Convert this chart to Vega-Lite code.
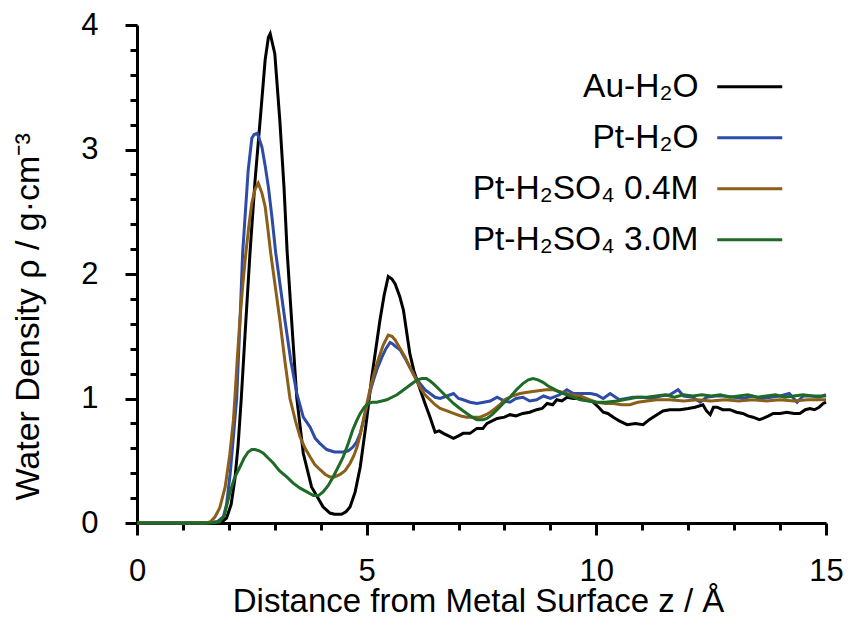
{
  "$schema": "https://vega.github.io/schema/vega-lite/v6.json",
  "autosize": {"type": "none"},
  "padding": {"left": 137, "top": 25, "right": 22, "bottom": 111},
  "width": 689,
  "height": 498,
  "background": "white",
  "config": {
    "view": {"stroke": null},
    "font": "Liberation Sans"
  },
  "datasets": {
    "curves": [
      {"series": "Au-H₂O", "z": 0, "rho": 0},
      {"series": "Au-H₂O", "z": 1.5, "rho": 0},
      {"series": "Au-H₂O", "z": 1.85, "rho": 0.01},
      {"series": "Au-H₂O", "z": 1.95, "rho": 0.04},
      {"series": "Au-H₂O", "z": 2.05, "rho": 0.15},
      {"series": "Au-H₂O", "z": 2.13, "rho": 0.35},
      {"series": "Au-H₂O", "z": 2.2, "rho": 0.62},
      {"series": "Au-H₂O", "z": 2.27, "rho": 1.0},
      {"series": "Au-H₂O", "z": 2.35, "rho": 1.5},
      {"series": "Au-H₂O", "z": 2.46, "rho": 2.17},
      {"series": "Au-H₂O", "z": 2.57, "rho": 2.75},
      {"series": "Au-H₂O", "z": 2.68, "rho": 3.23},
      {"series": "Au-H₂O", "z": 2.79, "rho": 3.72},
      {"series": "Au-H₂O", "z": 2.86, "rho": 3.9},
      {"series": "Au-H₂O", "z": 2.9, "rho": 3.93},
      {"series": "Au-H₂O", "z": 3.0, "rho": 3.77},
      {"series": "Au-H₂O", "z": 3.11, "rho": 3.23},
      {"series": "Au-H₂O", "z": 3.2, "rho": 2.7},
      {"series": "Au-H₂O", "z": 3.27, "rho": 2.17},
      {"series": "Au-H₂O", "z": 3.38, "rho": 1.55},
      {"series": "Au-H₂O", "z": 3.48, "rho": 1.0},
      {"series": "Au-H₂O", "z": 3.62, "rho": 0.56},
      {"series": "Au-H₂O", "z": 3.8, "rho": 0.29},
      {"series": "Au-H₂O", "z": 4.05, "rho": 0.13},
      {"series": "Au-H₂O", "z": 4.2, "rho": 0.08},
      {"series": "Au-H₂O", "z": 4.3, "rho": 0.07},
      {"series": "Au-H₂O", "z": 4.45, "rho": 0.07},
      {"series": "Au-H₂O", "z": 4.55, "rho": 0.09},
      {"series": "Au-H₂O", "z": 4.64, "rho": 0.13},
      {"series": "Au-H₂O", "z": 4.75, "rho": 0.25},
      {"series": "Au-H₂O", "z": 4.86, "rho": 0.45},
      {"series": "Au-H₂O", "z": 5.0, "rho": 0.83},
      {"series": "Au-H₂O", "z": 5.11, "rho": 1.17},
      {"series": "Au-H₂O", "z": 5.2, "rho": 1.4},
      {"series": "Au-H₂O", "z": 5.29, "rho": 1.63},
      {"series": "Au-H₂O", "z": 5.38, "rho": 1.83},
      {"series": "Au-H₂O", "z": 5.47, "rho": 1.98},
      {"series": "Au-H₂O", "z": 5.55, "rho": 1.96},
      {"series": "Au-H₂O", "z": 5.62, "rho": 1.92},
      {"series": "Au-H₂O", "z": 5.72, "rho": 1.82},
      {"series": "Au-H₂O", "z": 5.8, "rho": 1.71},
      {"series": "Au-H₂O", "z": 5.94, "rho": 1.36},
      {"series": "Au-H₂O", "z": 6.03, "rho": 1.22},
      {"series": "Au-H₂O", "z": 6.12, "rho": 1.12},
      {"series": "Au-H₂O", "z": 6.27, "rho": 0.96},
      {"series": "Au-H₂O", "z": 6.38, "rho": 0.85},
      {"series": "Au-H₂O", "z": 6.49, "rho": 0.73},
      {"series": "Au-H₂O", "z": 6.58, "rho": 0.74},
      {"series": "Au-H₂O", "z": 6.67, "rho": 0.72},
      {"series": "Au-H₂O", "z": 6.78, "rho": 0.7},
      {"series": "Au-H₂O", "z": 6.89, "rho": 0.68},
      {"series": "Au-H₂O", "z": 7.0, "rho": 0.7},
      {"series": "Au-H₂O", "z": 7.1, "rho": 0.72},
      {"series": "Au-H₂O", "z": 7.25, "rho": 0.72},
      {"series": "Au-H₂O", "z": 7.4, "rho": 0.76},
      {"series": "Au-H₂O", "z": 7.53, "rho": 0.76},
      {"series": "Au-H₂O", "z": 7.62, "rho": 0.8},
      {"series": "Au-H₂O", "z": 7.84, "rho": 0.84},
      {"series": "Au-H₂O", "z": 8.0, "rho": 0.85},
      {"series": "Au-H₂O", "z": 8.12, "rho": 0.87},
      {"series": "Au-H₂O", "z": 8.25, "rho": 0.86},
      {"series": "Au-H₂O", "z": 8.4, "rho": 0.88},
      {"series": "Au-H₂O", "z": 8.55, "rho": 0.89},
      {"series": "Au-H₂O", "z": 8.7, "rho": 0.91},
      {"series": "Au-H₂O", "z": 8.82, "rho": 0.92},
      {"series": "Au-H₂O", "z": 8.93, "rho": 0.96},
      {"series": "Au-H₂O", "z": 9.05, "rho": 0.95},
      {"series": "Au-H₂O", "z": 9.14, "rho": 0.99},
      {"series": "Au-H₂O", "z": 9.25, "rho": 0.98},
      {"series": "Au-H₂O", "z": 9.36, "rho": 1.01},
      {"series": "Au-H₂O", "z": 9.5, "rho": 1.0},
      {"series": "Au-H₂O", "z": 9.65, "rho": 1.0},
      {"series": "Au-H₂O", "z": 9.8, "rho": 0.99},
      {"series": "Au-H₂O", "z": 9.93, "rho": 0.97},
      {"series": "Au-H₂O", "z": 10.05, "rho": 0.93},
      {"series": "Au-H₂O", "z": 10.15, "rho": 0.89},
      {"series": "Au-H₂O", "z": 10.25, "rho": 0.88},
      {"series": "Au-H₂O", "z": 10.37, "rho": 0.85},
      {"series": "Au-H₂O", "z": 10.5, "rho": 0.82},
      {"series": "Au-H₂O", "z": 10.67, "rho": 0.79},
      {"series": "Au-H₂O", "z": 10.85, "rho": 0.8},
      {"series": "Au-H₂O", "z": 11.02, "rho": 0.79},
      {"series": "Au-H₂O", "z": 11.15, "rho": 0.83},
      {"series": "Au-H₂O", "z": 11.32, "rho": 0.87},
      {"series": "Au-H₂O", "z": 11.45, "rho": 0.9},
      {"series": "Au-H₂O", "z": 11.6, "rho": 0.91},
      {"series": "Au-H₂O", "z": 11.82, "rho": 0.91},
      {"series": "Au-H₂O", "z": 12.0, "rho": 0.92},
      {"series": "Au-H₂O", "z": 12.15, "rho": 0.93},
      {"series": "Au-H₂O", "z": 12.32, "rho": 0.95},
      {"series": "Au-H₂O", "z": 12.4, "rho": 0.9},
      {"series": "Au-H₂O", "z": 12.48, "rho": 0.87},
      {"series": "Au-H₂O", "z": 12.55, "rho": 0.93},
      {"series": "Au-H₂O", "z": 12.63, "rho": 0.93},
      {"series": "Au-H₂O", "z": 12.75, "rho": 0.91},
      {"series": "Au-H₂O", "z": 12.91, "rho": 0.91},
      {"series": "Au-H₂O", "z": 13.05, "rho": 0.89},
      {"series": "Au-H₂O", "z": 13.19, "rho": 0.88},
      {"series": "Au-H₂O", "z": 13.3, "rho": 0.86},
      {"series": "Au-H₂O", "z": 13.41, "rho": 0.85},
      {"series": "Au-H₂O", "z": 13.55, "rho": 0.83},
      {"series": "Au-H₂O", "z": 13.63, "rho": 0.84},
      {"series": "Au-H₂O", "z": 13.75, "rho": 0.86},
      {"series": "Au-H₂O", "z": 13.85, "rho": 0.88},
      {"series": "Au-H₂O", "z": 14.0, "rho": 0.88},
      {"series": "Au-H₂O", "z": 14.15, "rho": 0.89},
      {"series": "Au-H₂O", "z": 14.3, "rho": 0.88},
      {"series": "Au-H₂O", "z": 14.43, "rho": 0.88},
      {"series": "Au-H₂O", "z": 14.55, "rho": 0.91},
      {"series": "Au-H₂O", "z": 14.65, "rho": 0.92},
      {"series": "Au-H₂O", "z": 14.75, "rho": 0.91},
      {"series": "Au-H₂O", "z": 14.85, "rho": 0.93},
      {"series": "Au-H₂O", "z": 14.94, "rho": 0.96},
      {"series": "Au-H₂O", "z": 15.0, "rho": 0.97},

      {"series": "Pt-H₂O", "z": 0, "rho": 0},
      {"series": "Pt-H₂O", "z": 1.5, "rho": 0},
      {"series": "Pt-H₂O", "z": 1.75, "rho": 0.01},
      {"series": "Pt-H₂O", "z": 1.88, "rho": 0.05},
      {"series": "Pt-H₂O", "z": 1.95, "rho": 0.15},
      {"series": "Pt-H₂O", "z": 2.03, "rho": 0.4},
      {"series": "Pt-H₂O", "z": 2.1, "rho": 0.7},
      {"series": "Pt-H₂O", "z": 2.17, "rho": 1.0},
      {"series": "Pt-H₂O", "z": 2.24, "rho": 1.6},
      {"series": "Pt-H₂O", "z": 2.3, "rho": 2.17},
      {"series": "Pt-H₂O", "z": 2.36, "rho": 2.5},
      {"series": "Pt-H₂O", "z": 2.42, "rho": 2.83},
      {"series": "Pt-H₂O", "z": 2.5, "rho": 3.09},
      {"series": "Pt-H₂O", "z": 2.55, "rho": 3.12},
      {"series": "Pt-H₂O", "z": 2.62, "rho": 3.13},
      {"series": "Pt-H₂O", "z": 2.72, "rho": 3.02},
      {"series": "Pt-H₂O", "z": 2.79, "rho": 2.87},
      {"series": "Pt-H₂O", "z": 2.86, "rho": 2.7},
      {"series": "Pt-H₂O", "z": 2.94, "rho": 2.45},
      {"series": "Pt-H₂O", "z": 3.02, "rho": 2.17},
      {"series": "Pt-H₂O", "z": 3.12, "rho": 1.9},
      {"series": "Pt-H₂O", "z": 3.22, "rho": 1.63},
      {"series": "Pt-H₂O", "z": 3.35, "rho": 1.3},
      {"series": "Pt-H₂O", "z": 3.48, "rho": 1.04},
      {"series": "Pt-H₂O", "z": 3.62, "rho": 0.85},
      {"series": "Pt-H₂O", "z": 3.77, "rho": 0.77},
      {"series": "Pt-H₂O", "z": 3.88, "rho": 0.68},
      {"series": "Pt-H₂O", "z": 3.98, "rho": 0.64},
      {"series": "Pt-H₂O", "z": 4.13, "rho": 0.59},
      {"series": "Pt-H₂O", "z": 4.3, "rho": 0.57},
      {"series": "Pt-H₂O", "z": 4.49, "rho": 0.57},
      {"series": "Pt-H₂O", "z": 4.6, "rho": 0.58},
      {"series": "Pt-H₂O", "z": 4.7, "rho": 0.61},
      {"series": "Pt-H₂O", "z": 4.78, "rho": 0.65},
      {"series": "Pt-H₂O", "z": 4.86, "rho": 0.72},
      {"series": "Pt-H₂O", "z": 4.93, "rho": 0.82},
      {"series": "Pt-H₂O", "z": 5.0, "rho": 0.93},
      {"series": "Pt-H₂O", "z": 5.07, "rho": 1.05},
      {"series": "Pt-H₂O", "z": 5.15, "rho": 1.15},
      {"series": "Pt-H₂O", "z": 5.24, "rho": 1.25},
      {"series": "Pt-H₂O", "z": 5.33, "rho": 1.33},
      {"series": "Pt-H₂O", "z": 5.42, "rho": 1.4},
      {"series": "Pt-H₂O", "z": 5.51, "rho": 1.45},
      {"series": "Pt-H₂O", "z": 5.56, "rho": 1.44},
      {"series": "Pt-H₂O", "z": 5.62, "rho": 1.42},
      {"series": "Pt-H₂O", "z": 5.73, "rho": 1.39},
      {"series": "Pt-H₂O", "z": 5.84, "rho": 1.32},
      {"series": "Pt-H₂O", "z": 5.94, "rho": 1.25},
      {"series": "Pt-H₂O", "z": 6.05, "rho": 1.18},
      {"series": "Pt-H₂O", "z": 6.16, "rho": 1.12},
      {"series": "Pt-H₂O", "z": 6.27, "rho": 1.07},
      {"series": "Pt-H₂O", "z": 6.38, "rho": 1.04},
      {"series": "Pt-H₂O", "z": 6.49, "rho": 1.01},
      {"series": "Pt-H₂O", "z": 6.6, "rho": 1.0},
      {"series": "Pt-H₂O", "z": 6.75, "rho": 1.02},
      {"series": "Pt-H₂O", "z": 6.89, "rho": 1.04},
      {"series": "Pt-H₂O", "z": 7.0, "rho": 1.0},
      {"series": "Pt-H₂O", "z": 7.1, "rho": 0.99},
      {"series": "Pt-H₂O", "z": 7.25, "rho": 0.97},
      {"series": "Pt-H₂O", "z": 7.4, "rho": 0.96},
      {"series": "Pt-H₂O", "z": 7.55, "rho": 0.97},
      {"series": "Pt-H₂O", "z": 7.69, "rho": 0.98},
      {"series": "Pt-H₂O", "z": 7.84, "rho": 1.01},
      {"series": "Pt-H₂O", "z": 8.0, "rho": 0.98},
      {"series": "Pt-H₂O", "z": 8.12, "rho": 0.97},
      {"series": "Pt-H₂O", "z": 8.25, "rho": 1.0},
      {"series": "Pt-H₂O", "z": 8.4, "rho": 1.01},
      {"series": "Pt-H₂O", "z": 8.55, "rho": 0.98},
      {"series": "Pt-H₂O", "z": 8.7, "rho": 0.99},
      {"series": "Pt-H₂O", "z": 8.85, "rho": 1.02},
      {"series": "Pt-H₂O", "z": 9.0, "rho": 1.0},
      {"series": "Pt-H₂O", "z": 9.2, "rho": 1.03},
      {"series": "Pt-H₂O", "z": 9.36, "rho": 1.07},
      {"series": "Pt-H₂O", "z": 9.5, "rho": 1.04},
      {"series": "Pt-H₂O", "z": 9.65, "rho": 1.04},
      {"series": "Pt-H₂O", "z": 9.87, "rho": 1.04},
      {"series": "Pt-H₂O", "z": 10.0, "rho": 1.03},
      {"series": "Pt-H₂O", "z": 10.15, "rho": 1.0},
      {"series": "Pt-H₂O", "z": 10.3, "rho": 1.04},
      {"series": "Pt-H₂O", "z": 10.5, "rho": 0.99},
      {"series": "Pt-H₂O", "z": 10.65, "rho": 1.0},
      {"series": "Pt-H₂O", "z": 10.8, "rho": 1.01},
      {"series": "Pt-H₂O", "z": 11.0, "rho": 1.01},
      {"series": "Pt-H₂O", "z": 11.2, "rho": 1.0},
      {"series": "Pt-H₂O", "z": 11.4, "rho": 1.02},
      {"series": "Pt-H₂O", "z": 11.6, "rho": 1.03},
      {"series": "Pt-H₂O", "z": 11.78, "rho": 1.07},
      {"series": "Pt-H₂O", "z": 11.9, "rho": 1.02},
      {"series": "Pt-H₂O", "z": 12.1, "rho": 1.01},
      {"series": "Pt-H₂O", "z": 12.26, "rho": 0.97},
      {"series": "Pt-H₂O", "z": 12.4, "rho": 1.01},
      {"series": "Pt-H₂O", "z": 12.6, "rho": 1.02},
      {"series": "Pt-H₂O", "z": 12.8, "rho": 1.02},
      {"series": "Pt-H₂O", "z": 13.0, "rho": 1.01},
      {"series": "Pt-H₂O", "z": 13.2, "rho": 1.0},
      {"series": "Pt-H₂O", "z": 13.4, "rho": 1.02},
      {"series": "Pt-H₂O", "z": 13.6, "rho": 1.0},
      {"series": "Pt-H₂O", "z": 13.8, "rho": 1.01},
      {"series": "Pt-H₂O", "z": 14.0, "rho": 1.02},
      {"series": "Pt-H₂O", "z": 14.2, "rho": 1.04},
      {"series": "Pt-H₂O", "z": 14.37, "rho": 0.97},
      {"series": "Pt-H₂O", "z": 14.5, "rho": 1.02},
      {"series": "Pt-H₂O", "z": 14.7, "rho": 1.02},
      {"series": "Pt-H₂O", "z": 14.85, "rho": 1.01},
      {"series": "Pt-H₂O", "z": 15.0, "rho": 1.03},

      {"series": "Pt-H₂SO₄ 0.4M", "z": 0, "rho": 0},
      {"series": "Pt-H₂SO₄ 0.4M", "z": 1.5, "rho": 0},
      {"series": "Pt-H₂SO₄ 0.4M", "z": 1.6, "rho": 0.01},
      {"series": "Pt-H₂SO₄ 0.4M", "z": 1.7, "rho": 0.05},
      {"series": "Pt-H₂SO₄ 0.4M", "z": 1.8, "rho": 0.12},
      {"series": "Pt-H₂SO₄ 0.4M", "z": 1.92, "rho": 0.29},
      {"series": "Pt-H₂SO₄ 0.4M", "z": 2.02, "rho": 0.55},
      {"series": "Pt-H₂SO₄ 0.4M", "z": 2.1, "rho": 0.83},
      {"series": "Pt-H₂SO₄ 0.4M", "z": 2.13, "rho": 1.0},
      {"series": "Pt-H₂SO₄ 0.4M", "z": 2.18, "rho": 1.3},
      {"series": "Pt-H₂SO₄ 0.4M", "z": 2.24, "rho": 1.63},
      {"series": "Pt-H₂SO₄ 0.4M", "z": 2.3, "rho": 1.9},
      {"series": "Pt-H₂SO₄ 0.4M", "z": 2.37, "rho": 2.17},
      {"series": "Pt-H₂SO₄ 0.4M", "z": 2.44, "rho": 2.4},
      {"series": "Pt-H₂SO₄ 0.4M", "z": 2.5, "rho": 2.57},
      {"series": "Pt-H₂SO₄ 0.4M", "z": 2.57, "rho": 2.68},
      {"series": "Pt-H₂SO₄ 0.4M", "z": 2.64, "rho": 2.73},
      {"series": "Pt-H₂SO₄ 0.4M", "z": 2.72, "rho": 2.65},
      {"series": "Pt-H₂SO₄ 0.4M", "z": 2.79, "rho": 2.54},
      {"series": "Pt-H₂SO₄ 0.4M", "z": 2.85, "rho": 2.36},
      {"series": "Pt-H₂SO₄ 0.4M", "z": 2.91, "rho": 2.17},
      {"series": "Pt-H₂SO₄ 0.4M", "z": 3.01, "rho": 1.9},
      {"series": "Pt-H₂SO₄ 0.4M", "z": 3.11, "rho": 1.63},
      {"series": "Pt-H₂SO₄ 0.4M", "z": 3.22, "rho": 1.3},
      {"series": "Pt-H₂SO₄ 0.4M", "z": 3.33, "rho": 1.0},
      {"series": "Pt-H₂SO₄ 0.4M", "z": 3.45, "rho": 0.82},
      {"series": "Pt-H₂SO₄ 0.4M", "z": 3.55, "rho": 0.69},
      {"series": "Pt-H₂SO₄ 0.4M", "z": 3.66, "rho": 0.6},
      {"series": "Pt-H₂SO₄ 0.4M", "z": 3.77, "rho": 0.53},
      {"series": "Pt-H₂SO₄ 0.4M", "z": 3.87, "rho": 0.47},
      {"series": "Pt-H₂SO₄ 0.4M", "z": 3.98, "rho": 0.43},
      {"series": "Pt-H₂SO₄ 0.4M", "z": 4.1, "rho": 0.39},
      {"series": "Pt-H₂SO₄ 0.4M", "z": 4.2, "rho": 0.37},
      {"series": "Pt-H₂SO₄ 0.4M", "z": 4.3, "rho": 0.37},
      {"series": "Pt-H₂SO₄ 0.4M", "z": 4.42, "rho": 0.39},
      {"series": "Pt-H₂SO₄ 0.4M", "z": 4.53, "rho": 0.42},
      {"series": "Pt-H₂SO₄ 0.4M", "z": 4.64, "rho": 0.48},
      {"series": "Pt-H₂SO₄ 0.4M", "z": 4.72, "rho": 0.54},
      {"series": "Pt-H₂SO₄ 0.4M", "z": 4.79, "rho": 0.61},
      {"series": "Pt-H₂SO₄ 0.4M", "z": 4.86, "rho": 0.71},
      {"series": "Pt-H₂SO₄ 0.4M", "z": 4.93, "rho": 0.83},
      {"series": "Pt-H₂SO₄ 0.4M", "z": 5.0, "rho": 0.95},
      {"series": "Pt-H₂SO₄ 0.4M", "z": 5.07, "rho": 1.07},
      {"series": "Pt-H₂SO₄ 0.4M", "z": 5.16, "rho": 1.2},
      {"series": "Pt-H₂SO₄ 0.4M", "z": 5.25, "rho": 1.31},
      {"series": "Pt-H₂SO₄ 0.4M", "z": 5.36, "rho": 1.43},
      {"series": "Pt-H₂SO₄ 0.4M", "z": 5.47, "rho": 1.51},
      {"series": "Pt-H₂SO₄ 0.4M", "z": 5.55, "rho": 1.5},
      {"series": "Pt-H₂SO₄ 0.4M", "z": 5.62, "rho": 1.47},
      {"series": "Pt-H₂SO₄ 0.4M", "z": 5.73, "rho": 1.4},
      {"series": "Pt-H₂SO₄ 0.4M", "z": 5.84, "rho": 1.33},
      {"series": "Pt-H₂SO₄ 0.4M", "z": 5.94, "rho": 1.25},
      {"series": "Pt-H₂SO₄ 0.4M", "z": 6.05, "rho": 1.17},
      {"series": "Pt-H₂SO₄ 0.4M", "z": 6.16, "rho": 1.09},
      {"series": "Pt-H₂SO₄ 0.4M", "z": 6.27, "rho": 1.03},
      {"series": "Pt-H₂SO₄ 0.4M", "z": 6.38, "rho": 0.99},
      {"series": "Pt-H₂SO₄ 0.4M", "z": 6.49, "rho": 0.95},
      {"series": "Pt-H₂SO₄ 0.4M", "z": 6.6, "rho": 0.92},
      {"series": "Pt-H₂SO₄ 0.4M", "z": 6.75, "rho": 0.9},
      {"series": "Pt-H₂SO₄ 0.4M", "z": 6.89, "rho": 0.88},
      {"series": "Pt-H₂SO₄ 0.4M", "z": 7.05, "rho": 0.86},
      {"series": "Pt-H₂SO₄ 0.4M", "z": 7.18, "rho": 0.85},
      {"series": "Pt-H₂SO₄ 0.4M", "z": 7.32, "rho": 0.85},
      {"series": "Pt-H₂SO₄ 0.4M", "z": 7.47, "rho": 0.85},
      {"series": "Pt-H₂SO₄ 0.4M", "z": 7.6, "rho": 0.87},
      {"series": "Pt-H₂SO₄ 0.4M", "z": 7.69, "rho": 0.89},
      {"series": "Pt-H₂SO₄ 0.4M", "z": 7.8, "rho": 0.92},
      {"series": "Pt-H₂SO₄ 0.4M", "z": 7.9, "rho": 0.95},
      {"series": "Pt-H₂SO₄ 0.4M", "z": 8.0, "rho": 0.99},
      {"series": "Pt-H₂SO₄ 0.4M", "z": 8.17, "rho": 1.02},
      {"series": "Pt-H₂SO₄ 0.4M", "z": 8.34, "rho": 1.04},
      {"series": "Pt-H₂SO₄ 0.4M", "z": 8.5, "rho": 1.05},
      {"series": "Pt-H₂SO₄ 0.4M", "z": 8.7, "rho": 1.06},
      {"series": "Pt-H₂SO₄ 0.4M", "z": 8.9, "rho": 1.07},
      {"series": "Pt-H₂SO₄ 0.4M", "z": 9.06, "rho": 1.07},
      {"series": "Pt-H₂SO₄ 0.4M", "z": 9.25, "rho": 1.05},
      {"series": "Pt-H₂SO₄ 0.4M", "z": 9.45, "rho": 1.03},
      {"series": "Pt-H₂SO₄ 0.4M", "z": 9.65, "rho": 1.02},
      {"series": "Pt-H₂SO₄ 0.4M", "z": 9.85, "rho": 0.99},
      {"series": "Pt-H₂SO₄ 0.4M", "z": 10.0, "rho": 0.97},
      {"series": "Pt-H₂SO₄ 0.4M", "z": 10.2, "rho": 0.96},
      {"series": "Pt-H₂SO₄ 0.4M", "z": 10.37, "rho": 0.96},
      {"series": "Pt-H₂SO₄ 0.4M", "z": 10.55, "rho": 0.95},
      {"series": "Pt-H₂SO₄ 0.4M", "z": 10.73, "rho": 0.95},
      {"series": "Pt-H₂SO₄ 0.4M", "z": 10.9, "rho": 0.97},
      {"series": "Pt-H₂SO₄ 0.4M", "z": 11.1, "rho": 0.98},
      {"series": "Pt-H₂SO₄ 0.4M", "z": 11.32, "rho": 0.99},
      {"series": "Pt-H₂SO₄ 0.4M", "z": 11.6, "rho": 0.99},
      {"series": "Pt-H₂SO₄ 0.4M", "z": 11.9, "rho": 0.98},
      {"series": "Pt-H₂SO₄ 0.4M", "z": 12.2, "rho": 0.99},
      {"series": "Pt-H₂SO₄ 0.4M", "z": 12.5, "rho": 0.98},
      {"series": "Pt-H₂SO₄ 0.4M", "z": 12.8, "rho": 0.99},
      {"series": "Pt-H₂SO₄ 0.4M", "z": 13.1, "rho": 0.98},
      {"series": "Pt-H₂SO₄ 0.4M", "z": 13.4, "rho": 0.99},
      {"series": "Pt-H₂SO₄ 0.4M", "z": 13.7, "rho": 0.98},
      {"series": "Pt-H₂SO₄ 0.4M", "z": 14.0, "rho": 0.99},
      {"series": "Pt-H₂SO₄ 0.4M", "z": 14.3, "rho": 0.98},
      {"series": "Pt-H₂SO₄ 0.4M", "z": 14.6, "rho": 0.99},
      {"series": "Pt-H₂SO₄ 0.4M", "z": 15.0, "rho": 0.99},

      {"series": "Pt-H₂SO₄ 3.0M", "z": 0, "rho": 0},
      {"series": "Pt-H₂SO₄ 3.0M", "z": 1.6, "rho": 0},
      {"series": "Pt-H₂SO₄ 3.0M", "z": 1.8, "rho": 0.01},
      {"series": "Pt-H₂SO₄ 3.0M", "z": 1.9, "rho": 0.06},
      {"series": "Pt-H₂SO₄ 3.0M", "z": 2.02, "rho": 0.24},
      {"series": "Pt-H₂SO₄ 3.0M", "z": 2.12, "rho": 0.36},
      {"series": "Pt-H₂SO₄ 3.0M", "z": 2.24, "rho": 0.45},
      {"series": "Pt-H₂SO₄ 3.0M", "z": 2.33, "rho": 0.52},
      {"series": "Pt-H₂SO₄ 3.0M", "z": 2.42, "rho": 0.57},
      {"series": "Pt-H₂SO₄ 3.0M", "z": 2.5, "rho": 0.59},
      {"series": "Pt-H₂SO₄ 3.0M", "z": 2.57, "rho": 0.59},
      {"series": "Pt-H₂SO₄ 3.0M", "z": 2.66, "rho": 0.58},
      {"series": "Pt-H₂SO₄ 3.0M", "z": 2.75, "rho": 0.56},
      {"series": "Pt-H₂SO₄ 3.0M", "z": 2.86, "rho": 0.52},
      {"series": "Pt-H₂SO₄ 3.0M", "z": 2.97, "rho": 0.48},
      {"series": "Pt-H₂SO₄ 3.0M", "z": 3.1, "rho": 0.42},
      {"series": "Pt-H₂SO₄ 3.0M", "z": 3.26, "rho": 0.37},
      {"series": "Pt-H₂SO₄ 3.0M", "z": 3.4, "rho": 0.32},
      {"series": "Pt-H₂SO₄ 3.0M", "z": 3.55, "rho": 0.28},
      {"series": "Pt-H₂SO₄ 3.0M", "z": 3.7, "rho": 0.25},
      {"series": "Pt-H₂SO₄ 3.0M", "z": 3.84, "rho": 0.22},
      {"series": "Pt-H₂SO₄ 3.0M", "z": 3.95, "rho": 0.22},
      {"series": "Pt-H₂SO₄ 3.0M", "z": 4.05, "rho": 0.25},
      {"series": "Pt-H₂SO₄ 3.0M", "z": 4.16, "rho": 0.3},
      {"series": "Pt-H₂SO₄ 3.0M", "z": 4.27, "rho": 0.37},
      {"series": "Pt-H₂SO₄ 3.0M", "z": 4.38, "rho": 0.45},
      {"series": "Pt-H₂SO₄ 3.0M", "z": 4.49, "rho": 0.53},
      {"series": "Pt-H₂SO₄ 3.0M", "z": 4.6, "rho": 0.64},
      {"series": "Pt-H₂SO₄ 3.0M", "z": 4.7, "rho": 0.75},
      {"series": "Pt-H₂SO₄ 3.0M", "z": 4.78, "rho": 0.82},
      {"series": "Pt-H₂SO₄ 3.0M", "z": 4.86, "rho": 0.88},
      {"series": "Pt-H₂SO₄ 3.0M", "z": 4.95, "rho": 0.93},
      {"series": "Pt-H₂SO₄ 3.0M", "z": 5.03, "rho": 0.96},
      {"series": "Pt-H₂SO₄ 3.0M", "z": 5.12, "rho": 0.97},
      {"series": "Pt-H₂SO₄ 3.0M", "z": 5.22, "rho": 0.97},
      {"series": "Pt-H₂SO₄ 3.0M", "z": 5.33, "rho": 0.98},
      {"series": "Pt-H₂SO₄ 3.0M", "z": 5.44, "rho": 0.99},
      {"series": "Pt-H₂SO₄ 3.0M", "z": 5.55, "rho": 1.01},
      {"series": "Pt-H₂SO₄ 3.0M", "z": 5.66, "rho": 1.03},
      {"series": "Pt-H₂SO₄ 3.0M", "z": 5.77, "rho": 1.06},
      {"series": "Pt-H₂SO₄ 3.0M", "z": 5.88, "rho": 1.09},
      {"series": "Pt-H₂SO₄ 3.0M", "z": 5.99, "rho": 1.12},
      {"series": "Pt-H₂SO₄ 3.0M", "z": 6.1, "rho": 1.15},
      {"series": "Pt-H₂SO₄ 3.0M", "z": 6.2, "rho": 1.16},
      {"series": "Pt-H₂SO₄ 3.0M", "z": 6.3, "rho": 1.16},
      {"series": "Pt-H₂SO₄ 3.0M", "z": 6.38, "rho": 1.14},
      {"series": "Pt-H₂SO₄ 3.0M", "z": 6.45, "rho": 1.12},
      {"series": "Pt-H₂SO₄ 3.0M", "z": 6.56, "rho": 1.08},
      {"series": "Pt-H₂SO₄ 3.0M", "z": 6.67, "rho": 1.04},
      {"series": "Pt-H₂SO₄ 3.0M", "z": 6.78, "rho": 1.0},
      {"series": "Pt-H₂SO₄ 3.0M", "z": 6.89, "rho": 0.96},
      {"series": "Pt-H₂SO₄ 3.0M", "z": 7.03, "rho": 0.92},
      {"series": "Pt-H₂SO₄ 3.0M", "z": 7.18, "rho": 0.88},
      {"series": "Pt-H₂SO₄ 3.0M", "z": 7.3, "rho": 0.85},
      {"series": "Pt-H₂SO₄ 3.0M", "z": 7.4, "rho": 0.83},
      {"series": "Pt-H₂SO₄ 3.0M", "z": 7.53, "rho": 0.83},
      {"series": "Pt-H₂SO₄ 3.0M", "z": 7.62, "rho": 0.84},
      {"series": "Pt-H₂SO₄ 3.0M", "z": 7.73, "rho": 0.87},
      {"series": "Pt-H₂SO₄ 3.0M", "z": 7.84, "rho": 0.91},
      {"series": "Pt-H₂SO₄ 3.0M", "z": 7.97, "rho": 0.96},
      {"series": "Pt-H₂SO₄ 3.0M", "z": 8.12, "rho": 1.01},
      {"series": "Pt-H₂SO₄ 3.0M", "z": 8.26, "rho": 1.07},
      {"series": "Pt-H₂SO₄ 3.0M", "z": 8.4, "rho": 1.12},
      {"series": "Pt-H₂SO₄ 3.0M", "z": 8.52, "rho": 1.15},
      {"series": "Pt-H₂SO₄ 3.0M", "z": 8.62, "rho": 1.16},
      {"series": "Pt-H₂SO₄ 3.0M", "z": 8.73, "rho": 1.15},
      {"series": "Pt-H₂SO₄ 3.0M", "z": 8.84, "rho": 1.13},
      {"series": "Pt-H₂SO₄ 3.0M", "z": 8.95, "rho": 1.1},
      {"series": "Pt-H₂SO₄ 3.0M", "z": 9.06, "rho": 1.08},
      {"series": "Pt-H₂SO₄ 3.0M", "z": 9.2, "rho": 1.05},
      {"series": "Pt-H₂SO₄ 3.0M", "z": 9.36, "rho": 1.03},
      {"series": "Pt-H₂SO₄ 3.0M", "z": 9.5, "rho": 1.01},
      {"series": "Pt-H₂SO₄ 3.0M", "z": 9.65, "rho": 0.99},
      {"series": "Pt-H₂SO₄ 3.0M", "z": 9.82, "rho": 0.98},
      {"series": "Pt-H₂SO₄ 3.0M", "z": 10.0, "rho": 0.97},
      {"series": "Pt-H₂SO₄ 3.0M", "z": 10.2, "rho": 0.97},
      {"series": "Pt-H₂SO₄ 3.0M", "z": 10.45, "rho": 0.98},
      {"series": "Pt-H₂SO₄ 3.0M", "z": 10.6, "rho": 0.99},
      {"series": "Pt-H₂SO₄ 3.0M", "z": 10.89, "rho": 1.01},
      {"series": "Pt-H₂SO₄ 3.0M", "z": 11.1, "rho": 1.01},
      {"series": "Pt-H₂SO₄ 3.0M", "z": 11.3, "rho": 1.02},
      {"series": "Pt-H₂SO₄ 3.0M", "z": 11.5, "rho": 1.03},
      {"series": "Pt-H₂SO₄ 3.0M", "z": 11.7, "rho": 1.01},
      {"series": "Pt-H₂SO₄ 3.0M", "z": 11.9, "rho": 1.03},
      {"series": "Pt-H₂SO₄ 3.0M", "z": 12.1, "rho": 1.02},
      {"series": "Pt-H₂SO₄ 3.0M", "z": 12.3, "rho": 1.03},
      {"series": "Pt-H₂SO₄ 3.0M", "z": 12.5, "rho": 1.02},
      {"series": "Pt-H₂SO₄ 3.0M", "z": 12.7, "rho": 1.03},
      {"series": "Pt-H₂SO₄ 3.0M", "z": 12.9, "rho": 1.01},
      {"series": "Pt-H₂SO₄ 3.0M", "z": 13.1, "rho": 1.02},
      {"series": "Pt-H₂SO₄ 3.0M", "z": 13.3, "rho": 1.03},
      {"series": "Pt-H₂SO₄ 3.0M", "z": 13.5, "rho": 1.01},
      {"series": "Pt-H₂SO₄ 3.0M", "z": 13.7, "rho": 1.02},
      {"series": "Pt-H₂SO₄ 3.0M", "z": 13.9, "rho": 1.03},
      {"series": "Pt-H₂SO₄ 3.0M", "z": 14.1, "rho": 1.01},
      {"series": "Pt-H₂SO₄ 3.0M", "z": 14.3, "rho": 1.02},
      {"series": "Pt-H₂SO₄ 3.0M", "z": 14.5, "rho": 1.03},
      {"series": "Pt-H₂SO₄ 3.0M", "z": 14.7, "rho": 1.02},
      {"series": "Pt-H₂SO₄ 3.0M", "z": 15.0, "rho": 1.02}
    ]
  },
  "resolve": {"axis": {"x": "independent", "y": "independent"}},
  "layer": [
    {
      "data": {"name": "curves"},
      "mark": {"type": "line", "opacity": 0, "strokeWidth": 0},
      "encoding": {
        "detail": {"field": "series", "type": "nominal"},
        "x": {
          "field": "z", "type": "quantitative",
          "scale": {"domain": [0, 15], "nice": false, "zero": false},
          "axis": {
            "orient": "bottom",
            "values": [1, 2, 3, 4, 6, 7, 8, 9, 11, 12, 13, 14],
            "labels": false, "domain": false, "grid": false, "title": null,
            "tickSize": 7, "tickColor": "#000000", "tickWidth": 3
          }
        },
        "y": {
          "field": "rho", "type": "quantitative",
          "scale": {"domain": [0, 4], "nice": false, "zero": false},
          "axis": {
            "orient": "left",
            "values": [0.2, 0.4, 0.6, 0.8, 1.2, 1.4, 1.6, 1.8, 2.2, 2.4, 2.6, 2.8, 3.2, 3.4, 3.6, 3.8],
            "labels": false, "domain": false, "grid": false, "title": null,
            "tickSize": 7, "tickColor": "#000000", "tickWidth": 3
          }
        }
      }
    },
    {
      "mark": {"type": "rule", "color": "#444444", "strokeWidth": 2, "strokeDash": [10, 8], "strokeDashOffset": 12},
      "encoding": {"y": {"datum": 1, "type": "quantitative", "axis": null}}
    },
    {
      "data": {"name": "curves"},
      "mark": {"type": "line", "strokeWidth": 3, "interpolate": "linear"},
      "encoding": {
        "x": {
          "field": "z", "type": "quantitative",
          "scale": {"domain": [0, 15], "nice": false, "zero": false},
          "axis": {
            "orient": "bottom",
            "values": [0, 5, 10, 15],
            "format": "d",
            "tickSize": 12,
            "grid": false,
            "domainColor": "#000000", "domainWidth": 3,
            "tickColor": "#000000", "tickWidth": 3,
            "labelFontSize": 31, "labelColor": "#000000", "labelPadding": 21,
            "labelFlush": false,
            "title": "Distance from Metal Surface z / Å",
            "titleFontSize": 33, "titleFontWeight": "normal", "titleColor": "#000000",
            "titleX": 341, "titleY": 88, "titleBaseline": "alphabetic", "titleAlign": "center"
          }
        },
        "y": {
          "field": "rho", "type": "quantitative",
          "scale": {"domain": [0, 4], "nice": false, "zero": false},
          "axis": {
            "orient": "left",
            "values": [0, 1, 2, 3, 4],
            "format": "d",
            "tickSize": 12,
            "grid": false,
            "domainColor": "#000000", "domainWidth": 3,
            "tickColor": "#000000", "tickWidth": 3,
            "labelFontSize": 31, "labelColor": "#000000", "labelPadding": 27,
            "labelFlush": false,
            "title": "Water Density ρ / g·cm⁻³",
            "titleFontSize": 34, "titleFontWeight": "normal", "titleColor": "#000000",
            "titleX": -99, "titleY": 475, "titleAngle": -90, "titleBaseline": "alphabetic", "titleAlign": "left"
          }
        },
        "color": {
          "field": "series", "type": "nominal",
          "scale": {
            "domain": ["Au-H₂O", "Pt-H₂O", "Pt-H₂SO₄ 0.4M", "Pt-H₂SO₄ 3.0M"],
            "range": ["#000000", "#2E4BA8", "#8B5E1A", "#1E6B28"]
          },
          "legend": {
            "orient": "none", "legendX": 596, "legendY": 45,
            "title": null, "padding": 0,
            "symbolType": "M-6.5,0H6.5", "symbolSize": 100, "symbolStrokeWidth": 2.8,
            "rowPadding": 16,
            "labelFontSize": 33.5, "labelColor": "#000000", "labelAlign": "right",
            "labelOffset": -68, "labelLimit": 500
          }
        }
      }
    }
  ]
}
